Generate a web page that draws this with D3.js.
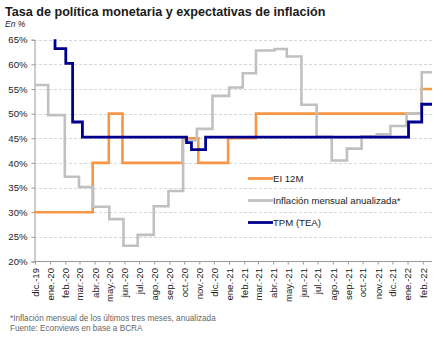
<!DOCTYPE html>
<html>
<head>
<meta charset="utf-8">
<script src="https://cdn.jsdelivr.net/npm/d3@7"></script>
<style>
  html, body { margin: 0; padding: 0; background: #fff; }
  svg { display: block; }
  text { font-family: "Liberation Sans", Arial, sans-serif; }
</style>
</head>
<body>
<div id="chart"></div>
<script>
// Step series: each value holds from its date until the next date.
const ei12mDates  = ["2019-11-29","2020-03-28","2020-04-30","2020-05-28","2020-09-28","2020-10-30","2020-12-30","2021-02-25","2022-01-30","2022-02-20"];
const ei12mValues = [30, 40, 50, 40, 45, 40, 45, 50, 55, 55];

const inflDates  = ["2019-11-29","2019-12-28","2020-01-31","2020-02-29","2020-03-29","2020-05-01","2020-05-30","2020-06-28","2020-07-31","2020-08-30","2020-09-29","2020-10-27","2020-11-28","2021-01-01","2021-01-29","2021-02-25","2021-04-04","2021-04-29","2021-05-29","2021-06-29","2021-07-30","2021-08-30","2021-09-29","2021-10-30","2021-11-27","2021-12-30","2022-01-30","2022-02-20"];
const inflValues = [55.8, 49.7, 37.2, 35.1, 31.1, 28.6, 23.2, 25.4, 31.2, 34.3, 44.6, 46.9, 53.6, 55.3, 58.2, 62.8, 63.1, 61.6, 51.8, 45.3, 40.5, 42.9, 45.4, 45.8, 47.5, 50.0, 58.4, 58.4];

const tpmDates  = ["2019-11-29","2020-01-11","2020-02-02","2020-02-16","2020-03-07","2020-10-06","2020-10-16","2020-11-14","2022-01-03","2022-01-30","2022-02-20"];
const tpmValues = [67, 63.2, 60.2, 48.3, 45.25, 44.1, 42.7, 45.25, 48.3, 51.9, 51.9];

const monthLabels = ["dic.-19","ene.-20","feb.-20","mar.-20","abr.-20","may.-20","jun.-20","jul.-20","ago.-20","sep.-20","oct.-20","nov.-20","dic.-20","ene.-21","feb.-21","mar.-21","abr.-21","may.-21","jun.-21","jul.-21","ago.-21","sep.-21","oct.-21","nov.-21","dic.-21","ene.-22","feb.-22"];
const yTicks = [20, 25, 30, 35, 40, 45, 50, 55, 60, 65];

const seriesNames = ["EI 12M", "Inflación mensual anualizada*", "TPM (TEA)"];

const W = 443, H = 340;
const parse = d3.utcParse("%Y-%m-%d");
const mk = (dates, vals) => dates.map((d, i) => ({ date: parse(d), value: vals[i] }));

const series = [
  { name: seriesNames[0], color: "#F79646", width: 2.6, data: mk(ei12mDates, ei12mValues) },
  { name: seriesNames[1], color: "#C0C0C0", width: 2.6, data: mk(inflDates, inflValues) },
  { name: seriesNames[2], color: "#00008F", width: 2.8, data: mk(tpmDates, tpmValues) }
];

const svg = d3.select("#chart").append("svg").attr("width", W).attr("height", H);

const x = d3.scaleUtc().domain([parse("2019-11-29"), parse("2022-02-20")]).range([34, 432]);
const y = d3.scaleLinear().domain([20, 65]).range([261.5, 39.7]);

// Title
svg.append("text").attr("x", 5).attr("y", 16)
  .attr("font-size", 12.6).attr("font-weight", "bold").attr("fill", "#1a1a1a")
  .text("Tasa de política monetaria y expectativas de inflación");
svg.append("text").attr("x", 5).attr("y", 26.5)
  .attr("font-size", 8.5).attr("font-style", "italic").attr("fill", "#222")
  .text("En %");

// Horizontal dashed gridlines
svg.append("g").selectAll("line").data(yTicks.filter(v => v > 20)).join("line")
  .attr("x1", 34).attr("x2", 432)
  .attr("y1", d => Math.round(y(d)) + 0.5).attr("y2", d => Math.round(y(d)) + 0.5)
  .attr("stroke", "#d6d6d6").attr("stroke-width", 1).attr("stroke-dasharray", "3,2");

// Y axis
const yAxis = d3.axisLeft(y).tickValues(yTicks).tickSize(3).tickFormat(d => d + "%");
const gy = svg.append("g").attr("transform", "translate(34.5,0)").call(yAxis);
gy.select(".domain").attr("stroke", "#9a9a9a");
gy.selectAll(".tick line").attr("stroke", "#9a9a9a");
gy.selectAll(".tick text").attr("font-size", 9.6).attr("fill", "#222").attr("x", -7)
  .attr("font-family", "'Liberation Sans', Arial, sans-serif");

// X axis: monthly ticks
const monthTicks = d3.utcMonth.range(parse("2019-12-01"), parse("2022-02-02"));
const xAxis = d3.axisBottom(x).tickValues(monthTicks).tickSize(3)
  .tickFormat((d, i) => monthLabels[i]).tickSizeOuter(0);
const gx = svg.append("g").attr("transform", "translate(0,261.5)").call(xAxis);
gx.select(".domain").attr("stroke", "#9a9a9a").attr("d", "M34,0H432");
gx.selectAll(".tick line").attr("stroke", "#9a9a9a");
gx.selectAll(".tick text")
  .attr("font-size", 9.6).attr("fill", "#222")
  .attr("font-family", "'Liberation Sans', Arial, sans-serif")
  .attr("text-anchor", "end")
  .attr("transform", "rotate(-90)")
  .attr("x", -6.5).attr("y", 0).attr("dy", "0.35em");

// Plot clip
svg.append("clipPath").attr("id", "plot")
  .append("rect").attr("x", 30).attr("y", 39.7 - 0.5).attr("width", 410).attr("height", 261.5 - 39.2);

const line = d3.line().curve(d3.curveStepAfter)
  .x(d => x(d.date)).y(d => y(d.value));

svg.append("g").attr("clip-path", "url(#plot)")
  .selectAll("path").data(series).join("path")
  .attr("d", d => line(d.data))
  .attr("fill", "none")
  .attr("stroke", d => d.color)
  .attr("stroke-width", d => d.width)
  .attr("stroke-linejoin", "miter");

// Legend
const legend = svg.append("g");
const ly = [178.5, 200.5, 222.5];
series.forEach((s, i) => {
  legend.append("line").attr("x1", 248).attr("x2", 273)
    .attr("y1", ly[i]).attr("y2", ly[i])
    .attr("stroke", s.color).attr("stroke-width", 2.8);
  legend.append("text").attr("x", 273).attr("y", ly[i]).attr("dy", "0.35em")
    .attr("font-size", 9.6).attr("fill", "#222").text(s.name);
});

// Footnotes
svg.append("text").attr("x", 10).attr("y", 320.5).attr("font-size", 8.2).attr("fill", "#666")
  .text("*Inflación mensual de los últimos tres meses, anualizada");
svg.append("text").attr("x", 10).attr("y", 330.5).attr("font-size", 8.2).attr("fill", "#666")
  .text("Fuente: Econviews en base a BCRA");
</script>
</body>
</html>
